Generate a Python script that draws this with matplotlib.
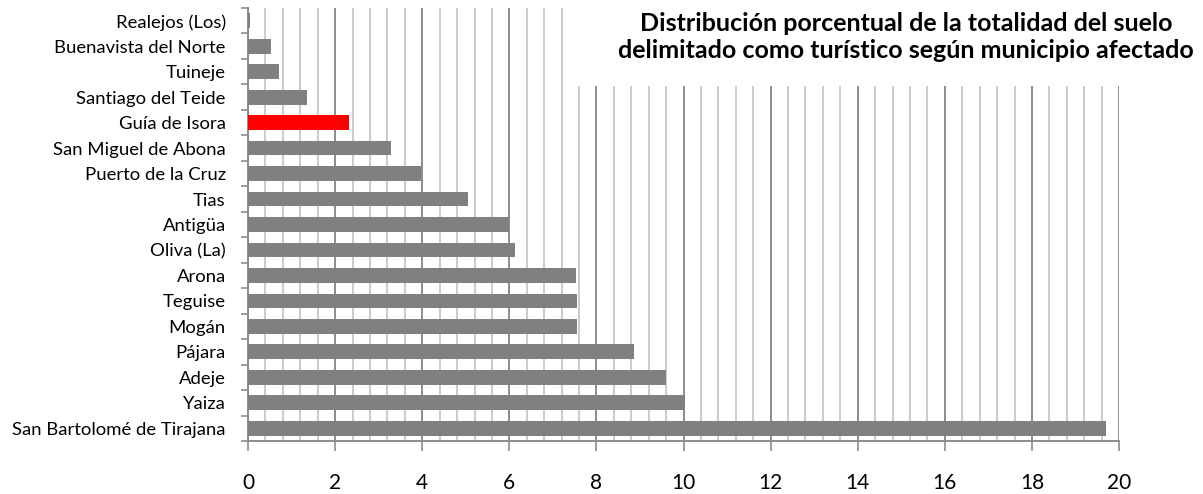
import matplotlib
matplotlib.use("Agg")
import matplotlib.pyplot as plt
from matplotlib.patches import Rectangle
from matplotlib.ticker import MultipleLocator, FixedLocator, NullFormatter
import numpy as np

plt.rcParams['font.family'] = ['Lato', 'DejaVu Sans']

municipios = [
    "San Bartolomé de Tirajana", "Yaiza", "Adeje", "Pájara", "Mogán",
    "Teguise", "Arona", "Oliva (La)", "Antigüa", "Tias",
    "Puerto de la Cruz", "San Miguel de Abona", "Guía de Isora",
    "Santiago del Teide", "Tuineje", "Buenavista del Norte", "Realejos (Los)",
]
porcentajes = [
    19.70, 10.03, 9.60, 8.86, 7.55,
    7.55, 7.53, 6.13, 6.00, 5.05,
    3.97, 3.28, 2.32,
    1.35, 0.71, 0.53, 0.05,
]
destacado = "Guía de Isora"
titulo = ("Distribución porcentual de la totalidad del suelo\n"
          "delimitado como turístico según municipio afectado")

fig = plt.figure(figsize=(12.03, 4.94), dpi=100)
ax = fig.add_axes([0.2062, 0.1073, 0.7240, 0.8765])

y = np.arange(len(municipios))
colores = ["#ff0000" if m == destacado else "#808080" for m in municipios]
ax.barh(y, porcentajes, height=0.58, color=colores, zorder=3)

ax.set_xlim(0, 20)
ax.set_ylim(-0.5, len(municipios) - 0.5)
ax.set_yticks(y)
ax.set_yticklabels(municipios, fontsize=13.3)
ax.yaxis.set_minor_locator(FixedLocator(np.arange(-0.5, len(municipios), 1)))
ax.tick_params(axis='y', which='major', length=0, pad=16)
ax.tick_params(axis='y', which='minor', length=5, color="#8c8c8c", width=1.2)

ax.xaxis.set_major_locator(MultipleLocator(2))
ax.xaxis.set_minor_locator(MultipleLocator(0.4))
ax.xaxis.set_minor_formatter(NullFormatter())
ax.tick_params(axis='x', which='major', length=7, color="#8c8c8c", width=1.2,
               labelsize=15, pad=16)
ax.tick_params(axis='x', which='minor', length=0)

ax.grid(axis='x', which='minor', color="#c4c4c4", linewidth=1.2, zorder=1)
ax.grid(axis='x', which='major', color="#8c8c8c", linewidth=1.4, zorder=1)
ax.set_axisbelow(True)

for side in ("top", "right"):
    ax.spines[side].set_visible(False)
for side in ("left", "bottom"):
    ax.spines[side].set_color("#8c8c8c")
    ax.spines[side].set_linewidth(1.4)

# White box behind the title, covering the upper grid lines
fig.add_artist(Rectangle((573 / 1203, 1 - 86 / 494), 1 - 573 / 1203, 86 / 494,
                         transform=fig.transFigure, facecolor="white",
                         edgecolor="none", zorder=5))
fig.text(906 / 1203, 1 - 37 / 494, titulo, ha="center", va="center",
         fontsize=18, fontweight="bold", linespacing=1.25, zorder=6)

fig.savefig("out.png", dpi=100)
